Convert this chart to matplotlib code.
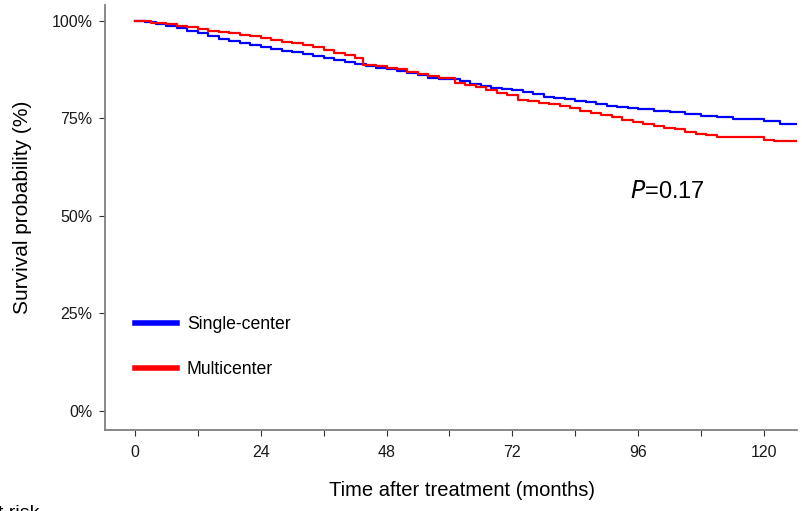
import matplotlib
matplotlib.use("Agg")
import matplotlib.pyplot as plt
from matplotlib.ticker import FuncFormatter

plt.rcParams['font.family'] = ['Liberation Sans', 'DejaVu Sans']

# Kaplan-Meier estimates (months, survival %)
single_t = [0, 2, 4, 6, 8, 10, 12, 14, 16, 18, 20, 22, 24, 26, 28, 30, 32, 34, 36,
            38, 40, 42, 44, 46, 48, 50, 52, 54, 56, 58, 60, 62, 64, 66, 68, 70, 72,
            74, 76, 78, 80, 82, 84, 86, 88, 90, 92, 94, 96, 99, 102, 105, 108, 111,
            114, 117, 120, 123, 126.5]
single_s = [100, 99.8, 99.3, 98.7, 98.1, 97.4, 96.8, 96.1, 95.4, 94.8, 94.3, 93.8,
            93.3, 92.7, 92.3, 92.0, 91.6, 91.1, 90.6, 90.1, 89.5, 89.0, 88.5, 88.0,
            87.6, 87.1, 86.6, 86.1, 85.5, 85.1, 85.0, 84.6, 83.9, 83.3, 82.8, 82.5,
            82.2, 81.8, 81.2, 80.6, 80.3, 79.9, 79.6, 79.1, 78.6, 78.2, 77.9, 77.6,
            77.4, 77.0, 76.6, 76.2, 75.6, 75.5, 74.9, 74.8, 74.4, 73.6, 73.6]

multi_t = [0, 3, 6, 8, 10, 12, 14, 16, 18, 20, 22, 24, 26, 28, 30, 32, 34, 36, 38,
           40, 42, 43.5, 46, 48, 50, 52, 54, 56, 58, 61, 63, 65, 67, 69, 71, 73, 75,
           77, 79, 81, 83, 85, 87, 89, 91, 93, 95, 97, 99, 101, 103, 105, 107, 109,
           111, 114, 117, 120, 122, 126.5]
multi_s = [100, 99.6, 99.2, 98.8, 98.4, 98.0, 97.5, 97.1, 96.8, 96.5, 96.1, 95.7,
           95.2, 94.7, 94.3, 93.8, 93.2, 92.6, 91.9, 91.3, 90.6, 88.8, 88.4, 88.0,
           87.6, 87.0, 86.5, 85.9, 85.4, 84.0, 83.6, 83.0, 82.3, 81.6, 80.9, 79.8,
           79.6, 79.0, 78.6, 78.3, 77.8, 77.0, 76.4, 75.8, 75.3, 74.7, 74.1, 73.6,
           73.0, 72.6, 72.2, 71.5, 71.1, 70.7, 70.3, 70.2, 70.2, 69.5, 69.1, 69.1]

x_ticks = [0, 24, 48, 72, 96, 120]
y_ticks = [0, 25, 50, 75, 100]
p_text = "$\\mathit{P}$=0.17"

fig = plt.figure(figsize=(8.03, 5.11), dpi=100)
ax = fig.add_axes([105 / 803, 1 - 430 / 511, 692 / 803, 425 / 511])

ax.plot(single_t, single_s, color='#0000ff', lw=1.6, drawstyle='steps-post',
        label='Single-center')
ax.plot(multi_t, multi_s, color='#ff0000', lw=1.6, drawstyle='steps-post',
        label='Multicenter')

ax.set_xlim(-5.7, 126.3)
ax.set_ylim(-4.9, 104.1)
ax.set_xticks(x_ticks)
ax.set_xticks(range(12, 126, 24), minor=True)
ax.set_yticks(y_ticks)
ax.yaxis.set_major_formatter(FuncFormatter(lambda v, _: f"{v:.0f}%"))

for side in ['top', 'right']:
    ax.spines[side].set_visible(False)
for side in ['left', 'bottom']:
    ax.spines[side].set_color('#7f7f7f')
    ax.spines[side].set_linewidth(1.3)

ax.tick_params(axis='both', which='both', length=4, width=0.8, color='#333333',
               labelsize=11.5, labelcolor='#1a1a1a', pad=5)
ax.tick_params(axis='x', which='major', pad=7)

ax.set_xlabel('Time after treatment (months)', fontsize=14.5)
ax.set_ylabel('Survival probability (%)', fontsize=15)
ax.xaxis.set_label_coords(0.516, -0.12)
ax.yaxis.set_label_coords(-0.106, 0.525)

ax.text(101.5, 56.2, p_text, fontsize=17, ha='center', va='center')

leg = ax.legend(loc='upper left', bbox_to_anchor=(0.043, 0.268), frameon=False,
                fontsize=12.7, handlelength=2.4, handletextpad=0.55,
                labelspacing=1.6, borderpad=0, borderaxespad=0)
for line in leg.get_lines():
    line.set_linewidth(4)

fig.text(40 / 803, 6 / 511, 'Number at risk', fontsize=14, ha='right', va='top')

fig.savefig('out.png', dpi=100)
